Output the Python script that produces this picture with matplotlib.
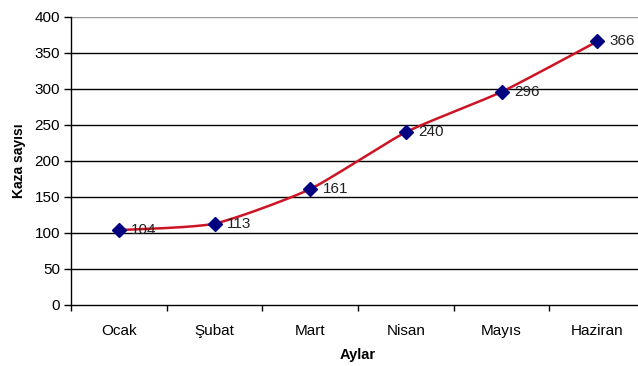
import numpy as np
import matplotlib.pyplot as plt

plt.rcParams['font.family'] = ['Liberation Sans', 'DejaVu Sans']

months = ["Ocak", "Şubat", "Mart", "Nisan", "Mayıs", "Haziran"]
accidents = [104, 113, 161, 240, 296, 366]


def smooth(xs, ys, tension=0.5, n=30):
    # Hermite curve through the points; tension scales the tangents
    p = np.column_stack([xs, ys]).astype(float)
    p = np.vstack([p[0], p, p[-1]])
    t = np.linspace(0, 1, n)[:, None]
    h00 = 2 * t ** 3 - 3 * t ** 2 + 1
    h10 = t ** 3 - 2 * t ** 2 + t
    h01 = -2 * t ** 3 + 3 * t ** 2
    h11 = t ** 3 - t ** 2
    out = []
    for i in range(1, len(p) - 2):
        p0, p1, p2, p3 = p[i - 1], p[i], p[i + 1], p[i + 2]
        m1 = tension * (p2 - p0) / 2
        m2 = tension * (p3 - p1) / 2
        out.append(h00 * p1 + h10 * m1 + h01 * p2 + h11 * m2)
    out = np.vstack(out)
    return out[:, 0], out[:, 1]


fig = plt.figure(figsize=(6.38, 3.66), dpi=100)
W, H = 638, 366
left, right, top, bottom = 71, 645, 17, 305
ax = fig.add_axes([left / W, 1 - bottom / H, (right - left) / W, (bottom - top) / H])

x = np.arange(len(months))
sx, sy = smooth(x, accidents, tension=0.6)
ax.plot(sx, sy, color="#cc1424", lw=1.8, zorder=3)
ax.plot(x, accidents, ls="none", marker="D", ms=7, color="#000080", zorder=4)
for xi, yi in zip(x, accidents):
    ax.annotate(str(yi), (xi, yi), xytext=(9, 0), textcoords="offset points",
                va="center", ha="left", fontsize=11, color="#222222", zorder=5)

ax.set_xlim(-0.5, len(months) - 0.5)
ax.set_ylim(0, 400)
ax.set_yticks(np.arange(0, 401, 50))
ax.set_xticks(x)
ax.set_xticklabels(months)
ax.set_xticks(np.arange(-0.5, len(months), 1), minor=True)
ax.tick_params(axis="x", which="major", length=0, pad=14, labelsize=11)
ax.tick_params(axis="x", which="minor", length=4, width=1, direction="out")
ax.tick_params(axis="y", length=5, width=1, labelsize=11, pad=3)

for yv in range(50, 400, 50):
    ax.axhline(yv, color="black", lw=1, zorder=1)
ax.axhline(400, color="#999999", lw=1, zorder=1)

ax.spines["top"].set_visible(False)
ax.spines["right"].set_visible(False)
ax.spines["left"].set_linewidth(1)
ax.spines["bottom"].set_linewidth(1)

ax.set_xlabel("Aylar", fontsize=10.5, fontweight="bold", labelpad=7)
ax.set_ylabel("Kaza sayısı", fontsize=10, fontweight="bold", labelpad=6)

fig.savefig("out.png", dpi=100)
